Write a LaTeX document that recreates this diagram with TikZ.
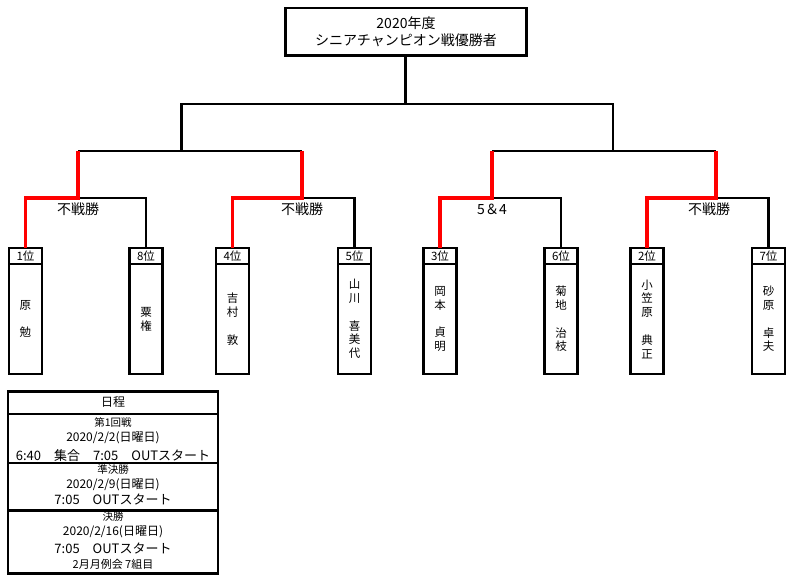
\documentclass[tikz,border=0pt]{standalone}
\usepackage{fontspec}
\setmainfont{Noto Sans CJK JP}
\tikzset{
	rank/.style={draw, line width=2.6pt, outer sep=0pt, inner sep=0pt, minimum width=33pt, minimum height=16pt, anchor=north, font=\fontsize{11.5}{12}\selectfont},
	player/.style={draw, line width=2.6pt, outer sep=0pt, inner sep=0pt, minimum width=33pt, minimum height=110pt, anchor=north, align=center, font=\fontsize{11.5}{13.8}\selectfont},
	lose/.style={line width=2.4pt},
	win/.style={line width=3.8pt, red},
	result/.style={inner sep=0pt, font=\fontsize{14}{16}\selectfont},
	row/.style={draw, line width=2.6pt, outer sep=0pt, inner sep=0pt, minimum width=210pt, anchor=north},
	small/.style={inner sep=0pt, font=\fontsize{10.5}{12}\selectfont},
	date/.style={inner sep=0pt, font=\fontsize{12}{13}\selectfont},
	big/.style={inner sep=0pt, font=\fontsize{13}{14}\selectfont}
}
\begin{document}
\begin{tikzpicture}[x=1pt,y=-1pt]
	\useasboundingbox (0,0) rectangle (800,584);
	\node[draw, line width=2.6pt, outer sep=0pt, minimum width=241pt, minimum height=47.5pt, align=center, font=\fontsize{14}{17}\selectfont] at (406,31.75) (champ) {2020年度\\シニアチャンピオン戦優勝者};
	% players
	\node[rank] at (25.5,248) (r1) {1位};
	\node[player] at (r1.south) (p1) {原\\~\\勉};
	\node[rank] at (146,248) (r8) {8位};
	\node[player] at (r8.south) (p8) {粟\\権};
	\node[rank] at (232.5,248) (r4) {4位};
	\node[player] at (r4.south) (p4) {吉\\村\\~\\敦};
	\node[rank] at (354.5,248) (r5) {5位};
	\node[player] at (r5.south) (p5) {山\\川\\~\\喜\\美\\代};
	\node[rank] at (440,248) (r3) {3位};
	\node[player] at (r3.south) (p3) {岡\\本\\~\\貞\\明};
	\node[rank] at (561,248) (r6) {6位};
	\node[player] at (r6.south) (p6) {菊\\地\\~\\治\\枝};
	\node[rank] at (647,248) (r2) {2位};
	\node[player] at (r2.south) (p2) {小\\笠\\原\\~\\典\\正};
	\node[rank] at (768.5,248) (r7) {7位};
	\node[player] at (r7.south) (p7) {砂\\原\\~\\卓\\夫};
	% bracket
	\coordinate (j1) at (78,198);
	\coordinate (j2) at (302,198);
	\coordinate (j3) at (492,198);
	\coordinate (j4) at (716,198);
	\coordinate (k1) at (78,151);
	\coordinate (k2) at (302,151);
	\coordinate (k3) at (492,151);
	\coordinate (k4) at (716,151);
	\coordinate (t1) at (181.5,151);
	\coordinate (t2) at (613,151);
	\coordinate (top) at (405.5,104);
	\draw[lose] (j1) -| (r8.north);
	\draw[lose] (j2) -| (r5.north);
	\draw[lose] (j3) -| (r6.north);
	\draw[lose] (j4) -| (r7.north);
	\draw[lose] (k1) -- (k2);
	\draw[lose] (k3) -- (k4);
	\draw[lose] (t1) |- (top) -| (t2);
	\draw[lose] (top) -- (top |- champ.south);
	\draw[win] (r1.north) |- (j1) -- (k1);
	\draw[win] (r4.north) |- (j2) -- (k2);
	\draw[win] (r3.north) |- (j3) -- (k3);
	\draw[win] (r2.north) |- (j4) -- (k4);
	\node[result] at (78,209) (res1) {不戦勝};
	\node[result] at (302,209) (res2) {不戦勝};
	\node[result] at (492,209) (res3) {5＆4};
	\node[result] at (709,209) (res4) {不戦勝};
	% schedule
	\node[row, minimum height=22.5pt] at (113,391.5) (head) {};
	\node[row, minimum height=49pt] at (head.south) (round1) {};
	\node[row, minimum height=47.5pt] at (round1.south) (round2) {};
	\node[row, minimum height=63pt] at (round2.south) (round3) {};
	\node[date] at (113,402) (sched) {日程};
	\node[small] at (113,422) (name1) {第1回戦};
	\node[date] at (113,438) (date1) {2020/2/2(日曜日)};
	\node[big] at (113,456) (time1) {6:40　集合　7:05　OUTスタート};
	\node[small] at (113,469) (name2) {準決勝};
	\node[date] at (113,485) (date2) {2020/2/9(日曜日)};
	\node[big] at (113,499) (time2) {7:05　OUTスタート};
	\node[small] at (113,517) (name3) {決勝};
	\node[date] at (113,532) (date3) {2020/2/16(日曜日)};
	\node[big] at (113,548) (time3) {7:05　OUTスタート};
	\node[small, font=\fontsize{11}{12}\selectfont] at (113,564) (note3) {2月月例会 7組目};
\end{tikzpicture}
\end{document}
